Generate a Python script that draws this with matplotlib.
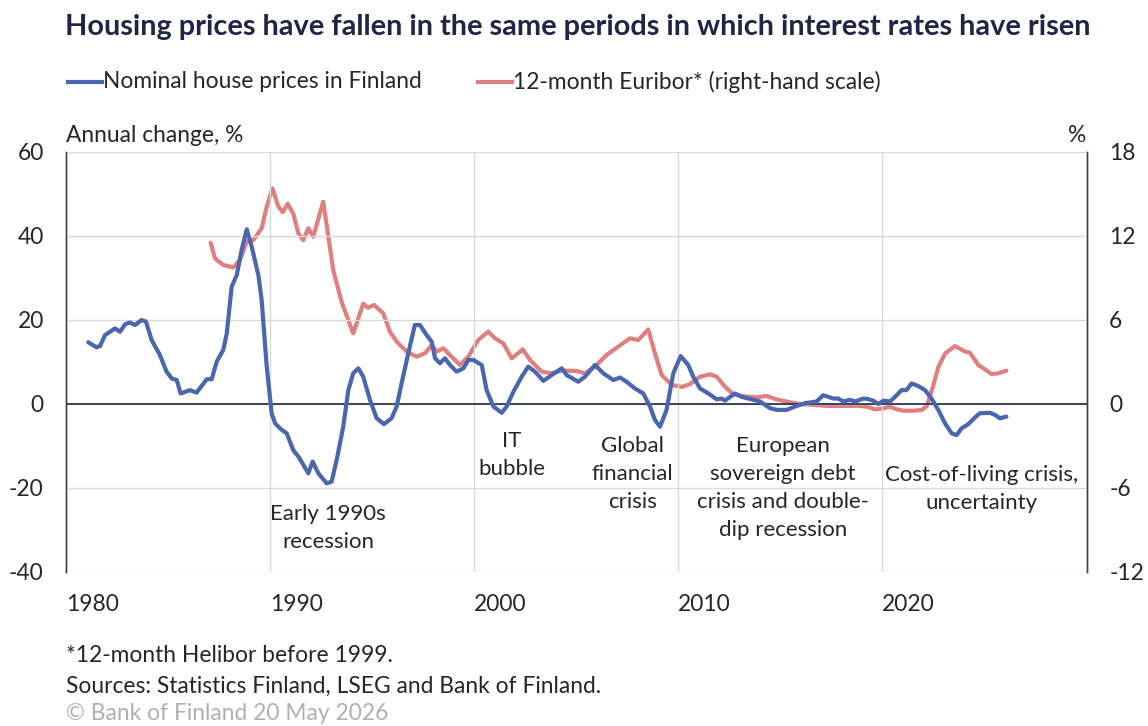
import matplotlib
matplotlib.use("Agg")
import matplotlib.pyplot as plt
from matplotlib.lines import Line2D

plt.rcParams['font.family'] = ['Lato', 'DejaVu Sans']

# ---------------- data ----------------
house_years = [1981.09, 1981.5, 1981.67, 1981.91, 1982.4, 1982.65, 1982.9, 1983.14, 1983.38, 1983.71,
               1983.92, 1984.2, 1984.6, 1984.93, 1985.18, 1985.43, 1985.62, 1986.08, 1986.4, 1986.9,
               1987.14, 1987.39, 1987.71, 1987.88, 1988.12, 1988.37, 1988.61, 1988.86, 1989.1, 1989.43,
               1989.59, 1989.84, 1990.08, 1990.25, 1990.49, 1990.82, 1991.14, 1991.39, 1991.88, 1992.09,
               1992.37, 1992.78, 1993.02, 1993.27, 1993.59, 1993.84, 1994.08, 1994.33, 1994.57, 1994.9,
               1995.23, 1995.59, 1995.96, 1996.21, 1996.45, 1996.78, 1997.1, 1997.35, 1997.68, 1997.93,
               1998.09, 1998.33, 1998.58, 1998.82, 1999.15, 1999.48, 1999.72, 1999.97, 2000.2, 2000.38,
               2000.62, 2000.95, 2001.36, 2001.6, 2001.93, 2002.34, 2002.66, 2002.99, 2003.4, 2003.81,
               2004.3, 2004.54, 2005.11, 2005.44, 2005.93, 2006.34, 2006.83, 2007.16, 2007.48, 2007.89,
               2008.3, 2008.63, 2008.87, 2009.12, 2009.44, 2009.77, 2010.13, 2010.5, 2010.75, 2011.08,
               2011.49, 2011.9, 2012.14, 2012.3, 2012.79, 2013.12, 2013.69, 2014.02, 2014.51, 2014.84,
               2015.33, 2015.74, 2016.23, 2016.8, 2017.12, 2017.61, 2017.86, 2018.1, 2018.43, 2018.68,
               2019.08, 2019.3, 2019.57, 2019.82, 2020.07, 2020.4, 2020.72, 2020.96, 2021.2, 2021.45,
               2021.77, 2022.11, 2022.43, 2022.76, 2023.09, 2023.42, 2023.66, 2023.9, 2024.23, 2024.56,
               2024.8, 2025.3, 2025.54, 2025.78, 2026.1]
house_change = [14.7, 13.5, 13.8, 16.4, 18.0, 17.2, 19.0, 19.4, 18.8, 20.0,
                19.6, 15.2, 11.7, 7.7, 6.1, 5.7, 2.5, 3.3, 2.7, 5.9,
                5.9, 10.1, 12.9, 16.8, 27.9, 30.7, 36.7, 41.6, 37.5, 30.7,
                24.8, 8.9, -2.2, -4.6, -5.8, -7.0, -11.0, -12.5, -16.5, -13.7,
                -16.5, -18.9, -18.5, -13.3, -5.4, 3.3, 7.3, 8.5, 6.5, 1.0,
                -3.4, -4.8, -3.4, -0.6, 4.9, 12.1, 18.8, 18.8, 16.4, 14.8,
                10.9, 9.7, 10.9, 9.3, 7.7, 8.5, 10.5, 10.5, 9.8, 9.3,
                3.3, -0.6, -2.1, -0.6, 2.9, 6.5, 8.9, 7.7, 5.5, 6.9,
                8.5, 6.9, 5.3, 6.5, 9.3, 7.3, 5.7, 6.3, 5.3, 3.7,
                2.5, -0.6, -3.8, -5.4, -1.4, 7.3, 11.4, 9.3, 6.5, 3.7,
                2.5, 1.1, 1.3, 0.8, 2.5, 1.7, 1.0, 0.6, -1.0, -1.4,
                -1.4, -0.6, 0.2, 0.6, 2.1, 1.3, 1.3, 0.6, 1.0, 0.6,
                1.3, 1.2, 0.8, 0.0, 0.8, 0.6, 2.1, 3.3, 3.3, 4.9,
                4.3, 3.3, 1.3, -1.4, -4.6, -7.0, -7.4, -5.8, -4.8, -3.2,
                -2.2, -2.1, -2.6, -3.4, -3.0]

euribor_years = [1987.09, 1987.3, 1987.71, 1988.2, 1988.53, 1988.86, 1989.18, 1989.59, 1989.84, 1990.12,
                 1990.41, 1990.62, 1990.87, 1991.14, 1991.39, 1991.63, 1991.88, 1992.12, 1992.61, 1993.1,
                 1993.51, 1994.08, 1994.57, 1994.8, 1995.1, 1995.55, 1995.88, 1996.21, 1996.7, 1997.19,
                 1997.6, 1997.93, 1998.17, 1998.5, 1998.9, 1999.31, 1999.72, 2000.21, 2000.7, 2001.03,
                 2001.44, 2001.85, 2002.39, 2002.75, 2003.32, 2003.81, 2004.3, 2005.03, 2005.44, 2005.93,
                 2006.5, 2007.07, 2007.65, 2008.05, 2008.54, 2008.87, 2009.2, 2009.69, 2010.2, 2010.59,
                 2011.08, 2011.57, 2011.9, 2012.3, 2012.71, 2013.37, 2013.86, 2014.35, 2014.84, 2015.33,
                 2015.98, 2016.63, 2017.45, 2018.27, 2018.92, 2019.25, 2019.66, 2020.07, 2020.4, 2020.72,
                 2021.05, 2021.54, 2021.95, 2022.2, 2022.45, 2022.77, 2023.1, 2023.58, 2024.07, 2024.31,
                 2024.72, 2024.97, 2025.38, 2025.7, 2026.1]
euribor_rate = [11.52, 10.4, 9.93, 9.76, 10.29, 11.6, 11.7, 12.55, 14.1, 15.4,
                14.1, 13.7, 14.3, 13.6, 12.2, 11.7, 12.55, 11.95, 14.45, 9.57,
                7.3, 5.05, 7.17, 6.87, 7.07, 6.48, 5.17, 4.45, 3.74, 3.38,
                3.62, 4.21, 3.74, 3.98, 3.38, 2.79, 3.38, 4.57, 5.17, 4.69,
                4.33, 3.26, 3.9, 3.14, 2.31, 2.19, 2.38, 2.36, 2.19, 2.67,
                3.5, 4.1, 4.69, 4.57, 5.33, 3.62, 2.07, 1.36, 1.22, 1.42,
                1.95, 2.12, 1.95, 1.24, 0.69, 0.52, 0.48, 0.57, 0.33, 0.17,
                0.0, -0.07, -0.14, -0.14, -0.14, -0.19, -0.38, -0.31, -0.19, -0.38,
                -0.48, -0.48, -0.43, -0.14, 1.0, 2.67, 3.62, 4.14, 3.74, 3.67,
                2.79, 2.55, 2.14, 2.19, 2.38]

year_ticks = [1980, 1990, 2000, 2010, 2020]
left_ticks = [-40, -20, 0, 20, 40, 60]
right_ticks = [-12, -6, 0, 6, 12, 18]

events = ["Early 1990s\nrecession", "IT\nbubble", "Global\nfinancial\ncrisis",
          "European\nsovereign debt\ncrisis and double-\ndip recession",
          "Cost-of-living crisis,\nuncertainty"]
event_x = [1992.84, 2001.86, 2007.75, 2015.15, 2024.9]
event_y = [-29.5, -12.1, -16.7, -20.0, -20.2]

# ---------------- style ----------------
BLUE = "#4a66ae"
RED = "#e07f7f"
TXT = "#262626"
NAVY = "#1f2547"
GRID = "#d9d9d9"
FS = 16.4

fig = plt.figure(figsize=(11.48, 7.26), dpi=100)
ax = fig.add_axes([66/1148, 1-572/726, (1087-66)/1148, (572-152)/726])
ax2 = ax.twinx()

ax.set_xlim(1980, 2030.05)
ax.set_ylim(-40, 60)
ax2.set_ylim(-12, 18)

ax.set_xticks(year_ticks)
ax.set_xticklabels([str(y) for y in year_ticks], ha='left', fontsize=FS, color=TXT)
ax.set_yticks(left_ticks)
ax.set_yticklabels([str(t) for t in left_ticks], fontsize=FS, color=TXT)
ax2.set_yticks(right_ticks)
ax2.set_yticklabels([str(t) for t in right_ticks], fontsize=FS, color=TXT)
ax.tick_params(axis='x', length=0, pad=16)
ax.tick_params(axis='y', length=0, pad=16)
ax2.tick_params(axis='y', length=0, pad=16)

ax.grid(True, color=GRID, lw=1.0)
ax.set_axisbelow(True)
for a in (ax, ax2):
    for s in ('top', 'bottom'):
        a.spines[s].set_visible(False)
    a.spines['left'].set_color('#404040')
    a.spines['right'].set_color('#404040')
    a.spines['left'].set_linewidth(1.0)
    a.spines['right'].set_linewidth(1.0)

ax.axhline(0, color=NAVY, lw=1.2, zorder=2)

ax.plot(house_years, house_change, color=BLUE, lw=3.0, zorder=4,
        solid_joinstyle='round', solid_capstyle='round')
ax2.plot(euribor_years, euribor_rate, color=RED, lw=3.0, zorder=3,
         solid_joinstyle='round', solid_capstyle='round')
ax.set_zorder(ax2.get_zorder() + 1)
ax.patch.set_visible(False)

for t, x, y in zip(events, event_x, event_y):
    ax.text(x, y, t, ha='center', va='center', fontsize=16, color=TXT, linespacing=1.5)

# titles and labels
fig.text(65/1148, 1-27/726, "Housing prices have fallen in the same periods in which interest rates have risen",
         fontsize=20.8, fontweight='bold', color=NAVY, va='center', ha='left')

# legend
for (x0, color, label) in [(68, BLUE, "Nominal house prices in Finland"),
                           (478, RED, "12-month Euribor* (right-hand scale)")]:
    fig.add_artist(Line2D([x0/1148, (x0+34)/1148], [1-82/726, 1-82/726], color=color, lw=3.0,
                          transform=fig.transFigure))
    fig.text((x0+35)/1148, 1-82/726, label, fontsize=FS, color=TXT, va='center', ha='left')

fig.text(66/1148, 1-136/726, "Annual change, %", fontsize=FS, color=TXT, va='center', ha='left')
fig.text(1086/1148, 1-136/726, "%", fontsize=FS, color=TXT, va='center', ha='right')

fig.text(66/1148, 1-655/726, "*12-month Helibor before 1999.", fontsize=FS, color=TXT, va='center')
fig.text(66/1148, 1-686/726, "Sources: Statistics Finland, LSEG and Bank of Finland.", fontsize=FS,
         color=TXT, va='center')
fig.text(66/1148, 1-714/726, "\u00a9 Bank of Finland 20 May 2026", fontsize=FS, color="#b0b0b0",
         va='center')

fig.savefig("out.png", dpi=100)
